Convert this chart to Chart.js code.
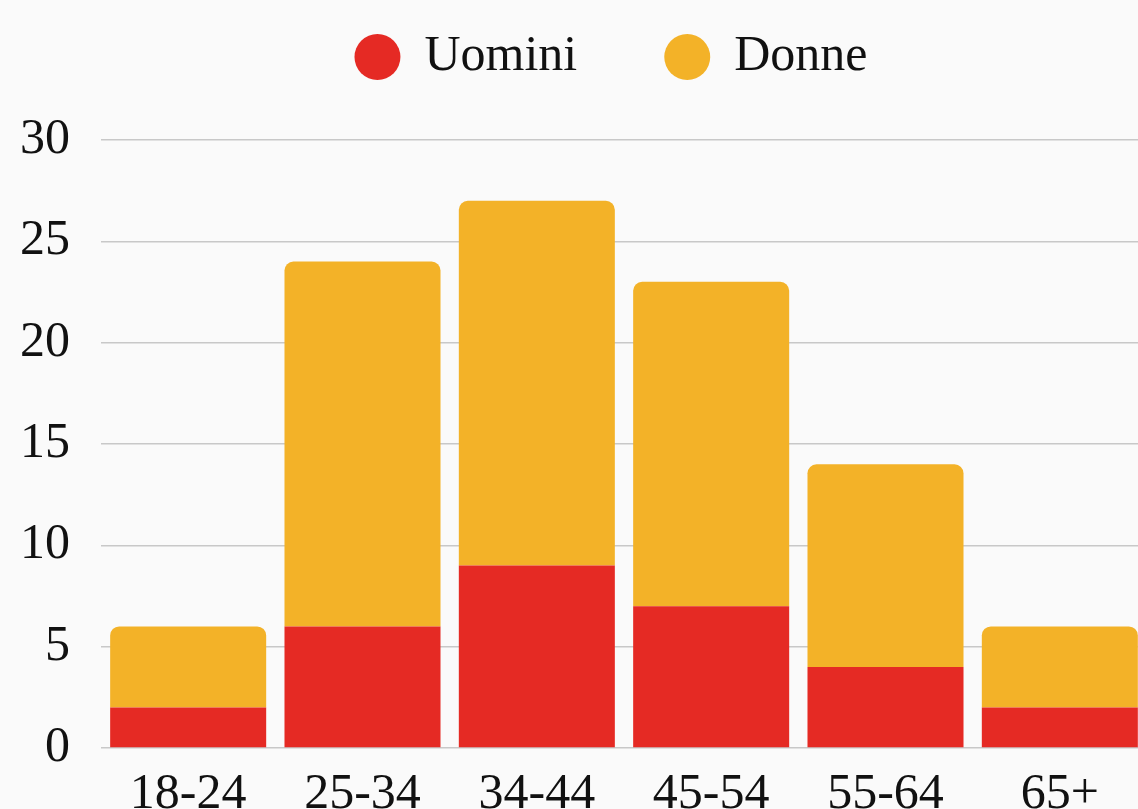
<!DOCTYPE html>
<html>
<head>
<meta charset="utf-8">
<script src="https://cdn.jsdelivr.net/npm/chart.js@4"></script>
<style>
  html, body { margin: 0; padding: 0; background: #fafafa; overflow: hidden; }
  #wrap { width: 1160px; height: 834px; position: relative; }
</style>
</head>
<body>
<div id="wrap"><canvas id="chart"></canvas></div>
<script>
// Age groups and counts per gender
const ageGroups = ['18-24', '25-34', '34-44', '45-54', '55-64', '65+'];
const uomini = [2, 6, 9, 7, 4, 2];
const donne = [4, 18, 18, 16, 10, 4];
const yTicks = [0, 5, 10, 15, 20, 25, 30];

const RED = '#e52a24';
const YELLOW = '#f3b228';
const FONT = '"Liberation Serif", "Times New Roman", serif';

// adds some room between the legend and the plot, and nudges the legend right
const legendSpacer = {
    id: 'legendSpacer',
    beforeLayout(chart) {
        const legend = chart.legend;
        if (legend && !legend._spaced) {
            const fit = legend.fit;
            legend.fit = function () {
                fit.call(this);
                this.height += 48;
                if (this.lineWidths) this.lineWidths[0] -= 76;
            };
            legend._spaced = true;
        }
    }
};

new Chart(document.getElementById('chart'), {
    type: 'bar',
    data: {
        labels: ageGroups,
        datasets: [
            {
                label: 'Uomini',
                data: uomini,
                backgroundColor: RED,
                borderSkipped: false,
                borderRadius: 0
            },
            {
                label: 'Donne',
                data: donne,
                backgroundColor: YELLOW,
                borderRadius: { topLeft: 9, topRight: 9, bottomLeft: 0, bottomRight: 0 },
                borderSkipped: false
            }
        ]
    },
    plugins: [legendSpacer],
    options: {
        responsive: true,
        maintainAspectRatio: false,
        animation: false,
        layout: { padding: { left: 0, right: 13, top: -56, bottom: 0 } },
        datasets: { bar: { categoryPercentage: 1, barPercentage: 0.895 } },
        plugins: {
            tooltip: { enabled: false },
            legend: {
                position: 'top',
                labels: {
                    usePointStyle: true,
                    pointStyle: 'circle',
                    boxWidth: 44,
                    boxHeight: 32.5,
                    padding: 88,
                    color: '#111',
                    font: { family: FONT, size: 50 }
                }
            }
        },
        scales: {
            x: {
                stacked: true,
                grid: { display: false },
                border: { display: false },
                ticks: { color: '#111', padding: 9, font: { family: FONT, size: 50 } }
            },
            y: {
                stacked: true,
                min: 0,
                max: 30,
                afterBuildTicks: axis => { axis.ticks = yTicks.map(v => ({ value: v })); },
                afterFit: axis => { axis.width = 101; },
                grid: { color: '#c8c8c8', lineWidth: 1.5, drawTicks: false },
                border: { display: false },
                ticks: { color: '#111', padding: 31, font: { family: FONT, size: 50 } }
            }
        }
    }
});
</script>
</body>
</html>
